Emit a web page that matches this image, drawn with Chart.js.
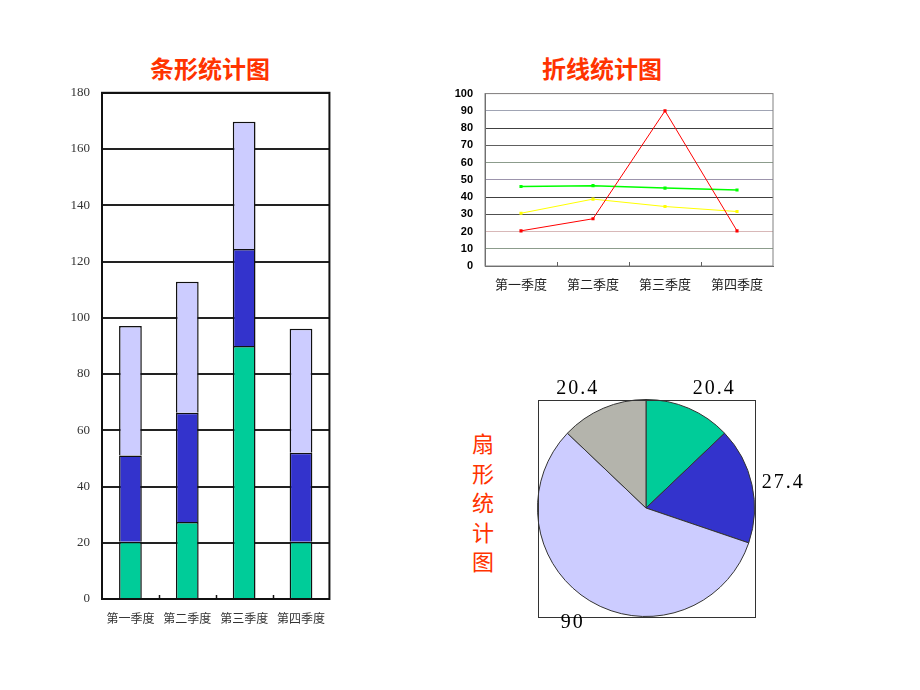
<!DOCTYPE html>
<html><head><meta charset="utf-8">
<script src="https://cdn.jsdelivr.net/npm/chart.js@4/dist/chart.umd.min.js"></script>
<style>
html,body{margin:0;padding:0;background:#fff;width:920px;height:690px;overflow:hidden;}
canvas{position:absolute;}
.title{position:absolute;font-family:"Noto Sans CJK SC";font-weight:bold;font-size:24px;color:#ff3300;line-height:1;white-space:nowrap;transform:translate(-50%,-50%);}
.vtitle{position:absolute;font-family:"Noto Sans CJK SC";font-size:22px;color:#ff3300;line-height:29.5px;width:26px;text-align:center;}
</style></head><body>
<div class="title" style="left:210px;top:68px">条形统计图</div>
<div class="title" style="left:602px;top:68px">折线统计图</div>
<div class="vtitle" style="left:470px;top:428px">扇<br>形<br>统<br>计<br>图</div>
<canvas id="bar" width="297" height="562" style="left:40px;top:73px"></canvas>
<canvas id="line" width="350" height="230" style="left:430px;top:75px"></canvas>
<canvas id="pie" width="300" height="270" style="left:520px;top:370px"></canvas>
<script>
// ---- data ----
const quarters = ['第一季度', '第二季度', '第三季度', '第四季度'];
const seriesA = [20.4, 27.4, 90, 20.4];     // green bars / red line
const seriesB = [30.6, 38.8, 34.5, 31.6];   // dark blue bars / yellow line
const seriesC = [46.1, 46.6, 45.2, 44.1];   // lavender bars / green line
const barAxisMax = 180, barAxisStep = 20;
const lineAxisMax = 100, lineAxisStep = 10;
const pieValues = [20.4, 27.4, 90, 20.4];
const pieLabels = ['20.4', '27.4', '90', '20.4'];

// ---- styles ----
const lineGridColors = ['#606060', '#8c9c8c', '#d8b8b8', '#505050', '#404040', '#9c94ac', '#8c9c8c', '#606060', '#404040', '#a0a4b4', '#e8c8c8'];

Chart.defaults.font.family = '"Noto Sans CJK SC", sans-serif';

const frame = {
  id: 'frame',
  afterDraw(chart, args, opts) {
    const {ctx, chartArea: a} = chart;
    ctx.save();
    ctx.strokeStyle = opts.color; ctx.lineWidth = opts.width;
    ctx.strokeRect(a.left, a.top, a.right - a.left, a.bottom - a.top);
    ctx.restore();
  }
};
const innerTicks = {
  id: 'innerTicks',
  afterDraw(chart, args, opts) {
    const {ctx, chartArea: a} = chart;
    const x = chart.scales.x;
    ctx.save();
    ctx.strokeStyle = opts.color; ctx.lineWidth = opts.width;
    for (let i = 1; i < x.ticks.length; i++) {
      const px = Math.round((x.getPixelForTick(i - 1) + x.getPixelForTick(i)) / 2) + 0.5;
      ctx.beginPath(); ctx.moveTo(px, a.bottom); ctx.lineTo(px, a.bottom - opts.len); ctx.stroke();
    }
    ctx.restore();
  }
};

// ---- stacked bar chart ----
const barDs = (data, color) => ({data, backgroundColor: color, borderColor: '#111', borderWidth: 1.5, barPercentage: 0.4, categoryPercentage: 1});
new Chart(document.getElementById('bar'), {
  type: 'bar',
  data: {labels: quarters, datasets: [barDs(seriesA, '#00cc99'), barDs(seriesB, '#3333cc'), barDs(seriesC, '#ccccff')]},
  options: {
    responsive: false, animation: false, events: [],
    layout: {padding: {top: 6, right: 0, left: 0, bottom: 0}},
    plugins: {legend: {display: false}, tooltip: {enabled: false}, frame: {color: '#111', width: 2}, innerTicks: {color: '#111', width: 1.5, len: 4}},
    scales: {
      x: {stacked: true, grid: {display: false, drawTicks: false}, border: {color: '#111', width: 2},
          ticks: {font: {size: 12}, color: '#333', padding: 12, maxRotation: 0},
          afterFit(s) { s.height = 36; }},
      y: {stacked: true, min: 0, max: barAxisMax,
          ticks: {stepSize: barAxisStep, font: {family: '"Liberation Serif"', size: 13}, color: '#333', padding: 12},
          grid: {color: '#222', lineWidth: 2, drawTicks: false}, border: {color: '#111', width: 2},
          afterFit(s) { s.width = 62; }}
    }
  },
  plugins: [frame, innerTicks]
});

// ---- line chart ----
const lineDs = (data, color, w) => ({data, borderColor: color, backgroundColor: color, borderWidth: w, pointStyle: 'rect', pointRadius: 2.2, pointBorderWidth: 0, tension: 0, fill: false});
new Chart(document.getElementById('line'), {
  type: 'line',
  data: {labels: quarters, datasets: [lineDs(seriesA, '#ff0000', 1), lineDs(seriesB, '#ffff00', 1), lineDs(seriesC, '#00ff00', 1.5)]},
  options: {
    responsive: false, animation: false, events: [],
    layout: {padding: {top: 8, right: 7, left: 0, bottom: 0}},
    plugins: {legend: {display: false}, tooltip: {enabled: false}, frame: {color: '#808080', width: 1}, innerTicks: {color: '#606060', width: 1, len: 4}},
    scales: {
      x: {offset: true, grid: {display: false, drawTicks: false}, border: {color: '#606060', width: 1},
          ticks: {font: {size: 13}, color: '#222', padding: 10, maxRotation: 0},
          afterFit(s) { s.height = 39; }},
      y: {min: 0, max: lineAxisMax,
          ticks: {stepSize: lineAxisStep, font: {family: '"Liberation Sans"', size: 11, weight: 'bold'}, color: '#000', padding: 12},
          grid: {color: c => lineGridColors[c.index] || '#808080', lineWidth: 1, drawTicks: false},
          border: {color: '#606060', width: 1},
          afterFit(s) { s.width = 55; }}
    }
  },
  plugins: [frame, innerTicks]
});

// ---- pie chart ----
const pieDeco = {
  id: 'pieDeco',
  afterDraw(chart) {
    const ctx = chart.ctx;
    const meta = chart.getDatasetMeta(0);
    const a0 = meta.data[0];
    const cx = a0.x, cy = a0.y, R = a0.outerRadius;
    ctx.save();
    ctx.strokeStyle = '#333'; ctx.lineWidth = 1;
    ctx.strokeRect(Math.round(cx - R) + 0.5, Math.round(cy - R) + 0.5, Math.round(2 * R), Math.round(2 * R));
    ctx.font = '20px "Liberation Serif"';
    ctx.fillStyle = '#000';
    try { ctx.letterSpacing = '2px'; } catch (e) {}
    meta.data.forEach((arc, i) => {
      const mid = (arc.startAngle + arc.endAngle) / 2;
      const c = Math.cos(mid), s = Math.sin(mid);
      const px = cx + c * (R + 10);
      const py = cy + s * (R + 10);
      ctx.textAlign = c < 0 ? 'right' : 'left';
      ctx.textBaseline = s > 0.5 ? 'top' : (s < -0.5 ? 'bottom' : 'middle');
      ctx.fillText(pieLabels[i], px, py + (s > 0.5 ? 3 : 0));
    });
    ctx.restore();
  }
};
new Chart(document.getElementById('pie'), {
  type: 'pie',
  data: {labels: pieLabels, datasets: [{data: pieValues, backgroundColor: ['#00cc99', '#3333cc', '#ccccff', '#b4b4ac'], borderColor: '#333', borderWidth: 1}]},
  options: {
    responsive: false, animation: false, events: [],
    layout: {padding: {left: 17, top: 29, right: 65, bottom: 23}},
    plugins: {legend: {display: false}, tooltip: {enabled: false}}
  },
  plugins: [pieDeco]
});
</script>
</body></html>
